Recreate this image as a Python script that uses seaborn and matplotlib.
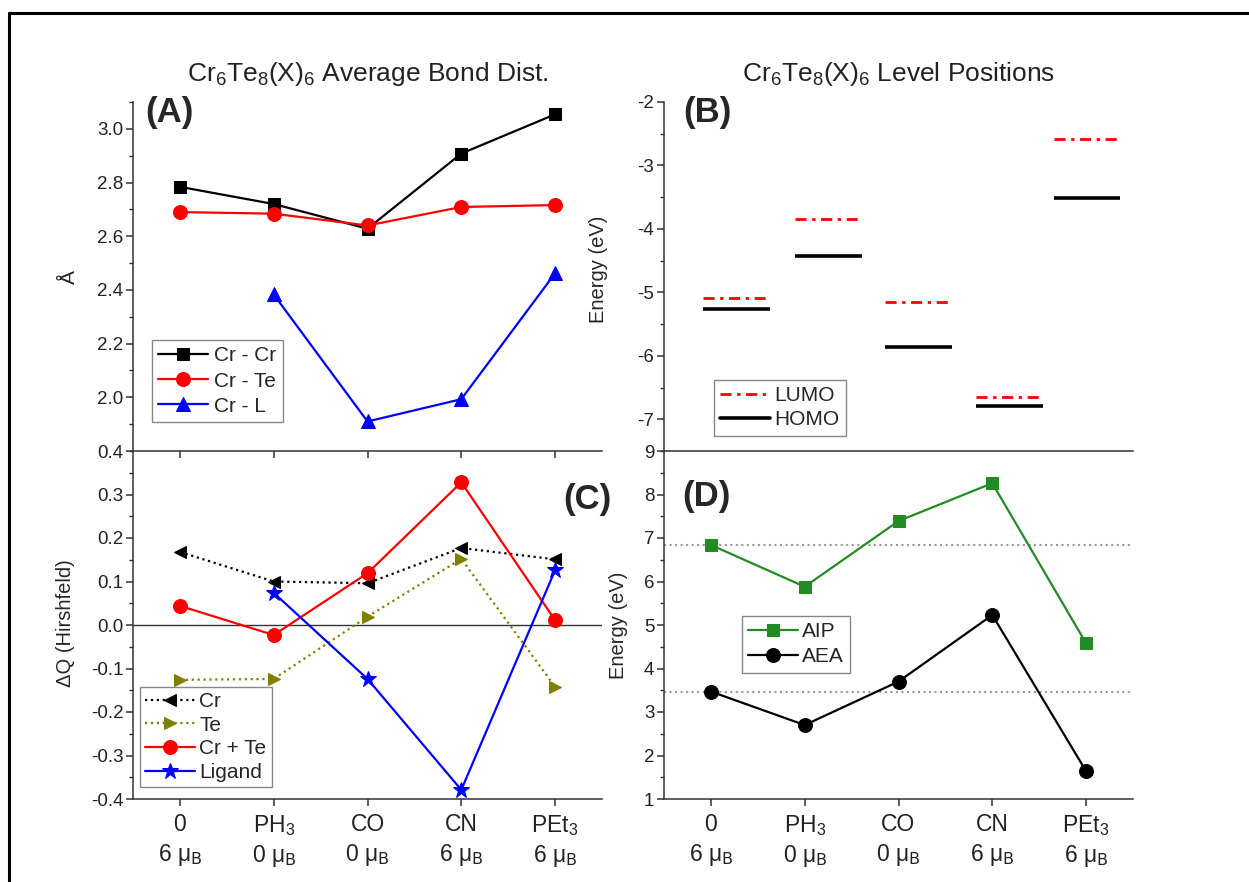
import numpy as np
import pandas as pd
import matplotlib
matplotlib.use("Agg")
import matplotlib.pyplot as plt
import seaborn as sns
from matplotlib.lines import Line2D
from matplotlib.ticker import MultipleLocator

# ---------------- data ----------------
ligands = ["0", "PH$_3$", "CO", "CN", "PEt$_3$"]
moments = ["6", "0", "0", "6", "6"]

cr_cr = [2.784, 2.720, 2.628, 2.908, 3.054]
cr_te = [2.690, 2.684, 2.640, 2.709, 2.716]
cr_l = [np.nan, 2.383, 1.910, 1.993, 2.462]

lumo = [-5.09, -3.84, -5.15, -6.65, -2.58]
homo = [-5.27, -4.42, -5.86, -6.79, -3.51]
level_x = [0.27, 1.25, 2.21, 3.18, 4.01]

dq_cr = [0.168, 0.100, 0.096, 0.177, 0.151]
dq_te = [-0.126, -0.124, 0.019, 0.152, -0.142]
dq_crte = [0.044, -0.023, 0.119, 0.328, 0.011]
dq_lig = [np.nan, 0.074, -0.124, -0.379, 0.126]

aip = [6.84, 5.88, 7.39, 8.26, 4.58]
aea = [3.47, 2.70, 3.70, 5.23, 1.64]

dq_ticks = [-0.4, -0.3, -0.2, -0.1, 0.0, 0.1, 0.2, 0.3, 0.4]
dq_ticklabels = ["-0.4", "-0.3", "-0.2", "-0.1", "0.0", "0.1", "0.2", "0.3", "0.4"]

xlabels = [f"{l}\n{m} μ$_\\mathrm{{B}}$" for l, m in zip(ligands, moments)]
xpos = np.arange(len(ligands))

# ---------------- style ----------------
sns.set_theme(style="ticks")
plt.rcParams["font.family"] = ["Liberation Sans", "DejaVu Sans"]
plt.rcParams["mathtext.default"] = "regular"
plt.rcParams["axes.linewidth"] = 1.1
plt.rcParams["axes.edgecolor"] = "#333333"

fig = plt.figure(figsize=(12.49, 8.82), dpi=100)

W, H = 1249, 882


def ax_at(left, top, right, bottom):
    return fig.add_axes([left / W, 1 - bottom / H, (right - left) / W, (bottom - top) / H])


axA = ax_at(133, 102, 602, 451)
axC = ax_at(133, 451, 602, 799)
axB = ax_at(664, 102, 1133, 451)
axD = ax_at(664, 451, 1133, 799)

for ax in (axA, axB, axC, axD):
    sns.despine(ax=ax)
    ax.set_xlim(-0.5, 4.5)
    ax.tick_params(axis="y", which="major", direction="out", length=5, width=1.1,
                   labelsize=13.5, colors="#333333", labelcolor="#222222", pad=2)
    ax.tick_params(axis="y", which="minor", direction="out", length=3, width=1.0, colors="#333333")
    ax.tick_params(axis="x", which="major", direction="out", length=5, width=1.1,
                   labelsize=16.5, colors="#333333", labelcolor="#222222", pad=5)
    ax.patch.set_alpha(0)

# ---------------- Panel A ----------------
lw = 1.6
sns.lineplot(x=xpos, y=cr_cr, ax=axA, color="black", marker="s", markersize=8,
             markeredgecolor="black", linewidth=lw, label="Cr - Cr")
sns.lineplot(x=xpos, y=cr_te, ax=axA, color="#ff0000", marker="o", markersize=10,
             markeredgecolor="#ff0000", linewidth=lw, label="Cr - Te")
sns.lineplot(x=xpos, y=cr_l, ax=axA, color="#0000ff", marker="^", markersize=10.5,
             markeredgecolor="#0000ff", linewidth=lw, label="Cr - L")
axA.set_ylim(1.8, 3.1)
axA.yaxis.set_minor_locator(MultipleLocator(0.1))
axA.set_yticks([2.0, 2.2, 2.4, 2.6, 2.8, 3.0])
axA.set_yticklabels(["2.0", "2.2", "2.4", "2.6", "2.8", "3.0"])
axA.set_xticks(xpos)
axA.set_xticklabels([])
axA.set_xlabel("")
axA.set_ylabel("Å", fontsize=15)
axA.yaxis.set_label_coords(-0.115, 0.5)
axA.legend(loc="upper left", bbox_to_anchor=(0.04, 0.318), borderaxespad=0, fontsize=15,
           handlelength=2.4, handletextpad=0.3, labelspacing=0.3, borderpad=0.3,
           fancybox=False, edgecolor="#888888", framealpha=1)
axA.text(0.026, 0.97, "(A)", transform=axA.transAxes, fontsize=25, fontweight="bold",
         ha="left", va="center")

# ---------------- Panel B ----------------
half = 0.356
lx = np.array(level_x)
axB.hlines(lumo, lx - half, lx + half, colors="#ff0000", linewidth=2.0,
           linestyles=[(0, (4, 2, 1.2, 2))])
axB.hlines(homo, lx - half, lx + half, colors="black", linewidth=2.6)
axB.set_ylim(-7.5, -2)
axB.set_yticks([-2, -3, -4, -5, -6, -7])
axB.set_yticklabels(["-2", "-3", "-4", "-5", "-6", "-7"])
axB.yaxis.set_minor_locator(MultipleLocator(0.5))
axB.set_xticks([])
axB.set_ylabel("Energy (eV)", fontsize=14.5)
axB.yaxis.set_label_coords(-0.119, 0.52)
hB = [Line2D([], [], color="#ff0000", linewidth=2.0, linestyle=(0, (4, 2, 1.2, 2))),
      Line2D([], [], color="black", linewidth=2.6)]
axB.legend(hB, ["LUMO", "HOMO"], loc="upper left", bbox_to_anchor=(0.107, 0.204),
           borderaxespad=0, fontsize=15, handlelength=2.4, handletextpad=0.2,
           labelspacing=0.25, borderpad=0.3, fancybox=False, edgecolor="#888888", framealpha=1)
axB.text(0.04, 0.97, "(B)", transform=axB.transAxes, fontsize=25, fontweight="bold",
         ha="left", va="center")

# ---------------- Panel C ----------------
axC.axhline(0, color="#333333", linewidth=1.0, zorder=1)
sns.lineplot(x=xpos, y=dq_cr, ax=axC, color="black", marker="<", markersize=8,
             markeredgecolor="black", linewidth=1.6, linestyle=":", label="Cr")
sns.lineplot(x=xpos, y=dq_te, ax=axC, color="#808000", marker=">", markersize=8,
             markeredgecolor="#808000", linewidth=1.6, linestyle=":", label="Te")
sns.lineplot(x=xpos, y=dq_crte, ax=axC, color="#ff0000", marker="o", markersize=10,
             markeredgecolor="#ff0000", linewidth=lw, label="Cr + Te")
sns.lineplot(x=xpos, y=dq_lig, ax=axC, color="#0000ff", marker="*", markersize=12,
             markeredgecolor="#0000ff", linewidth=lw, label="Ligand")
axC.set_ylim(-0.4, 0.4)
axC.set_yticks(dq_ticks)
axC.set_yticklabels(dq_ticklabels)
axC.yaxis.set_minor_locator(MultipleLocator(0.05))
axC.set_xticks(xpos)
axC.set_xticklabels(xlabels, linespacing=1.3)
axC.set_ylabel("ΔQ (Hirshfeld)", fontsize=14.5)
axC.yaxis.set_label_coords(-0.124, 0.506)
axC.legend(loc="upper left", bbox_to_anchor=(0.015, 0.322), borderaxespad=0, fontsize=15,
           handlelength=2.4, handletextpad=0.2, labelspacing=0.22, borderpad=0.25,
           fancybox=False, edgecolor="#888888", framealpha=1)
axC.text(1.02, 0.86, "(C)", transform=axC.transAxes, fontsize=25, fontweight="bold",
         ha="right", va="center", clip_on=False)

# ---------------- Panel D ----------------
axD.axhline(aip[0], color="#999999", linewidth=1.5, linestyle=":", zorder=1)
axD.axhline(aea[0], color="#999999", linewidth=1.5, linestyle=":", zorder=1)
sns.lineplot(x=xpos, y=aip, ax=axD, color="#228b22", marker="s", markersize=9,
             markeredgecolor="#228b22", linewidth=lw, label="AIP")
sns.lineplot(x=xpos, y=aea, ax=axD, color="black", marker="o", markersize=10,
             markeredgecolor="black", linewidth=lw, label="AEA")
axD.set_ylim(1, 9)
axD.set_yticks(range(1, 10))
axD.yaxis.set_minor_locator(MultipleLocator(0.5))
axD.set_xticks(xpos)
axD.set_xticklabels(xlabels, linespacing=1.3)
axD.set_ylabel("Energy (eV)", fontsize=14.5)
axD.yaxis.set_label_coords(-0.077, 0.5)
axD.legend(loc="upper left", bbox_to_anchor=(0.166, 0.526), borderaxespad=0, fontsize=15,
           handlelength=2.4, handletextpad=0.2, labelspacing=0.3, borderpad=0.3,
           fancybox=False, edgecolor="#888888", framealpha=1)
axD.text(0.038, 0.868, "(D)", transform=axD.transAxes, fontsize=25, fontweight="bold",
         ha="left", va="center")

# ---------------- titles ----------------
fig.text(367.5 / W, 1 - 74 / H, "Cr$_6$Te$_8$(X)$_6$ Average Bond Dist.", fontsize=19,
         ha="center", va="center", color="#222222")
fig.text(898.5 / W, 1 - 74 / H, "Cr$_6$Te$_8$(X)$_6$ Level Positions", fontsize=19,
         ha="center", va="center", color="#222222")

# ---------------- outer frame ----------------
fig.add_artist(Line2D([9 / W, 9 / W], [0, 1 - 13 / H], transform=fig.transFigure,
                      color="black", linewidth=2.2))
fig.add_artist(Line2D([9 / W, 1], [1 - 13 / H, 1 - 13 / H], transform=fig.transFigure,
                      color="black", linewidth=2.2))

fig.savefig("out.png", dpi=100)
